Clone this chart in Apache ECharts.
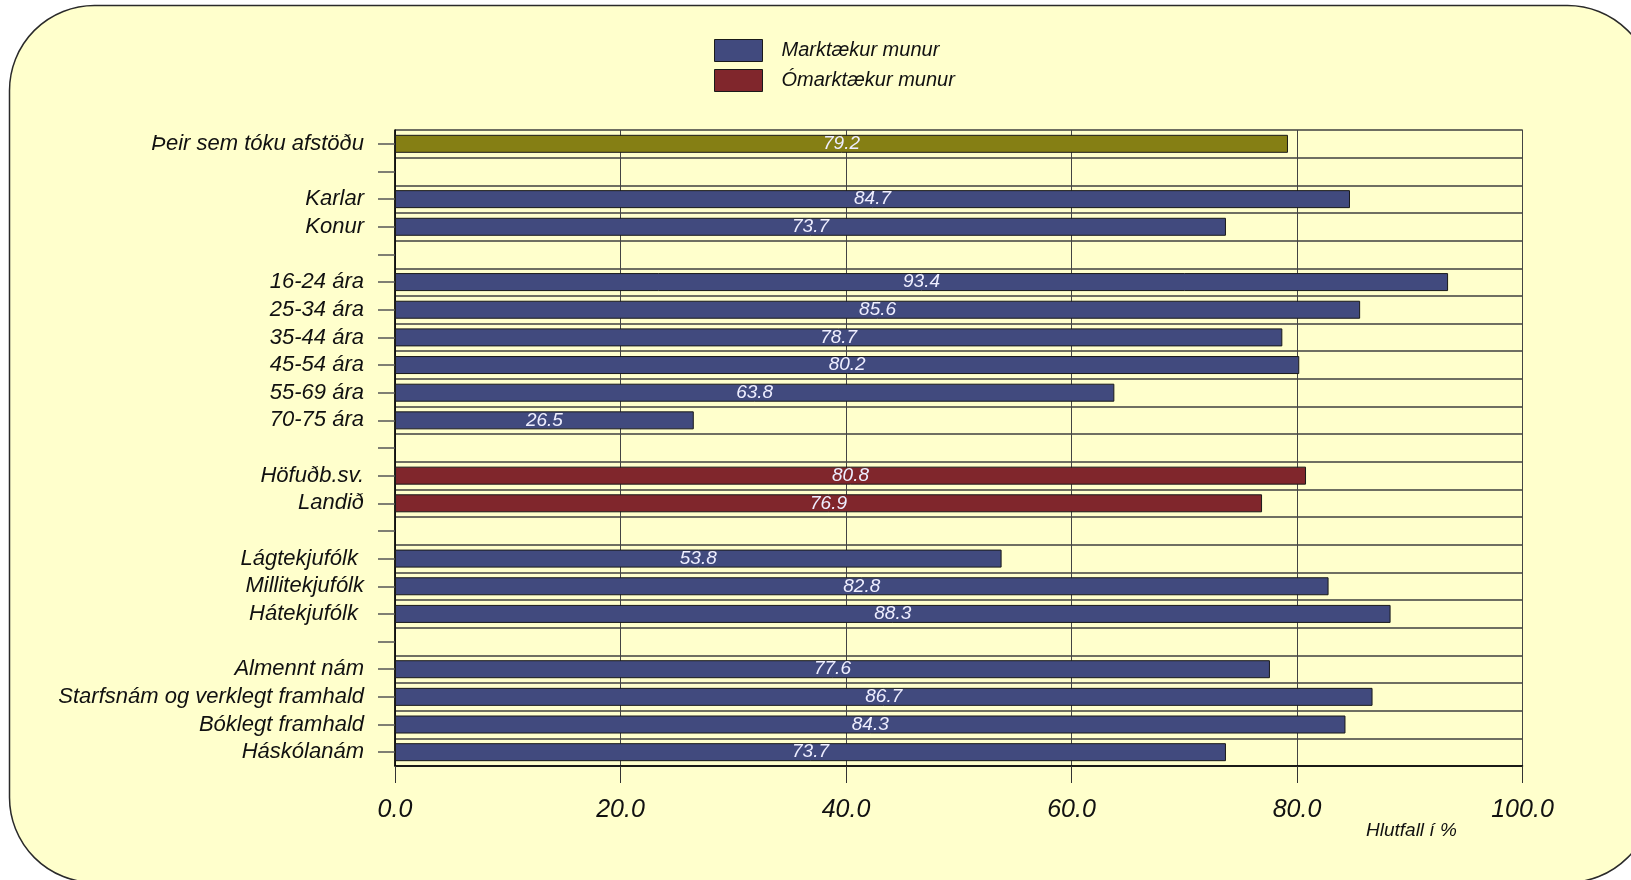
<!DOCTYPE html>
<html>
<head>
<meta charset="utf-8">
<script src="https://cdn.jsdelivr.net/npm/echarts@6/dist/echarts.min.js"></script>
<style>
html,body{margin:0;padding:0;background:#ffffff;}
#chart{width:1631px;height:880px;}
</style>
</head>
<body>
<div id="chart"></div>
<script>
// Categories (top to bottom); blank rows are spacer categories
const categories = [
  'Þeir sem tóku afstöðu', ' ',
  'Karlar', 'Konur', '  ',
  '16-24 ára', '25-34 ára', '35-44 ára', '45-54 ára', '55-69 ára', '70-75 ára', '   ',
  'Höfuðb.sv.', 'Landið', '    ',
  'Lágtekjufólk ', 'Millitekjufólk', 'Hátekjufólk ', '     ',
  'Almennt nám', 'Starfsnám og verklegt framhald', 'Bóklegt framhald', 'Háskólanám'
];
// Values per series ('-' = no bar in that row)
const totalValues = [79.2, '-', '-', '-', '-', '-', '-', '-', '-', '-', '-', '-', '-', '-', '-', '-', '-', '-', '-', '-', '-', '-', '-'];
const significantValues = ['-', '-', 84.7, 73.7, '-', 93.4, 85.6, 78.7, 80.2, 63.8, 26.5, '-', '-', '-', '-', 53.8, 82.8, 88.3, '-', 77.6, 86.7, 84.3, 73.7];
const nonSignificantValues = ['-', '-', '-', '-', '-', '-', '-', '-', '-', '-', '-', '-', 80.8, 76.9, '-', '-', '-', '-', '-', '-', '-', '-', '-'];
const xTicks = [0, 20, 40, 60, 80, 100];
const seriesNames = ['Marktækur munur', 'Ómarktækur munur'];
const axisTitle = 'Hlutfall í %';

const FONT = '"Liberation Sans Narrow", "Arial Narrow", "Liberation Sans", Arial, sans-serif';
const chart = echarts.init(document.getElementById('chart'), null, {renderer: 'canvas'});

const barLabel = {
  show: true, position: 'inside', color: '#eeeeff', fontStyle: 'italic',
  fontFamily: FONT, fontSize: 19,
  formatter: p => Number(p.value).toFixed(1)
};
function barSeries(name, data, color) {
  return {
    name: name, type: 'bar', stack: 'all', data: data, barWidth: 18,
    itemStyle: {color: color, borderColor: '#1a1a1a', borderWidth: 1},
    label: barLabel, silent: true
  };
}

chart.setOption({
  animation: false,
  backgroundColor: '#ffffff',
  graphic: [{
    type: 'rect', z: -10, silent: true,
    shape: {x: 9.5, y: 5.5, width: 1643, height: 877, r: 85},
    style: {fill: '#ffffcc', stroke: '#2a2a2a', lineWidth: 1.5}
  }, {
    type: 'text', left: 1366, top: 821, silent: true,
    style: {text: axisTitle, font: 'italic 19px ' + FONT, fill: '#111'}
  }],
  legend: {
    data: seriesNames, orient: 'vertical', left: 714, top: 39, padding: 0,
    itemWidth: 48, itemHeight: 22, itemGap: 7,
    icon: 'rect',
    itemStyle: {borderColor: '#1a1a1a', borderWidth: 1},
    textStyle: {fontFamily: FONT, fontStyle: 'italic', fontSize: 20, color: '#111', padding: [3, 0, 0, 14]}
  },
  grid: {left: 395, right: 108.5, top: 130, bottom: 114, show: true, borderColor: '#111', borderWidth: 1, containLabel: false},
  xAxis: {
    type: 'value', min: xTicks[0], max: xTicks[xTicks.length - 1], interval: 20,
    axisLine: {show: true, lineStyle: {color: '#000', width: 1.5}},
    axisTick: {show: true, length: 17, lineStyle: {color: '#333', width: 1}},
    axisLabel: {margin: 32, fontFamily: FONT, fontStyle: 'italic', fontSize: 25, color: '#111',
      formatter: v => v.toFixed(1)},
    splitLine: {show: true, lineStyle: {color: '#444', width: 1}}
  },
  yAxis: {
    type: 'category', data: categories, inverse: true,
    axisLine: {show: true, lineStyle: {color: '#000', width: 1.5}},
    axisTick: {show: true, alignWithLabel: true, length: 17, interval: 0, lineStyle: {color: '#555', width: 1.5}},
    axisLabel: {interval: 0, margin: 31, fontFamily: FONT, fontStyle: 'italic', fontSize: 22, color: '#111'},
    splitLine: {show: true, interval: 0, lineStyle: {color: '#6f6f62', width: 2}}
  },
  series: [
    barSeries('Þeir sem tóku afstöðu', totalValues, '#857f14'),
    barSeries(seriesNames[0], significantValues, '#414a7e'),
    barSeries(seriesNames[1], nonSignificantValues, '#80262c')
  ]
});
</script>
</body>
</html>
